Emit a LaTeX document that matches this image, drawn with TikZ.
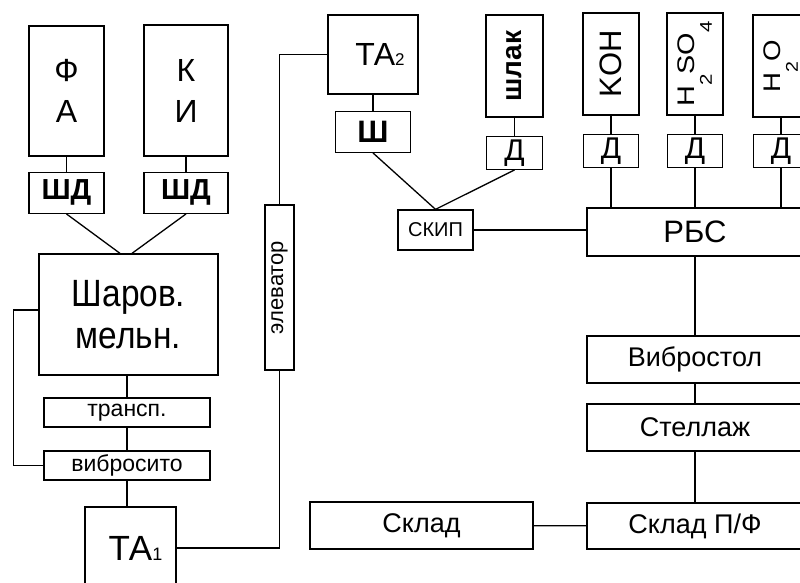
\documentclass[tikz,border=0pt]{standalone}
\usepackage{fontspec}
\setmainfont{Liberation Sans}
\newfontfamily\tallfont{Liberation Sans}[FakeStretch=0.88]
\usepackage{graphicx}
\usetikzlibrary{positioning}

\newcommand{\fsz}[1]{\fontsize{#1}{#1}\selectfont}
\newcommand{\chemsub}[1]{\raisebox{-17pt}{\fsz{17}#1}}

\begin{document}
\begin{tikzpicture}[x=1pt, y=-1pt,
		box/.style={
			rectangle, draw, line width=1.3pt, inner sep=0pt,
			align=center, font=\fontsize{32}{41}\selectfont
		},
		tallbox/.style={
			box, minimum width=56pt, minimum height=102pt
		},
		dbox/.style={
			box, minimum width=55pt, minimum height=33pt, font=\fsz{30}
		},
		shdbox/.style={
			box, minimum height=41pt, font=\fsz{29}\bfseries
		},
		strip/.style={
			box, minimum width=166pt, minimum height=29pt, font=\fsz{23}
		},
		widebox/.style={
			box, minimum width=216pt, minimum height=47pt, font=\fsz{27}
		},
		conn/.style={line width=1.3pt},
		]
		
		\useasboundingbox (0,0) rectangle (800,582);
		
		%left line
		\node[box, minimum width=75pt, minimum height=130pt] (fa) at (66.5,91) {Ф\\А};
		\node[box, minimum width=84pt, minimum height=131pt] (ki) at (186,90.5) {К\\И};
		\node[shdbox, minimum width=75pt, below=15pt of fa] (shd1) {ШД};
		\node[shdbox, minimum width=84pt, below=15pt of ki] (shd2) {ШД};
		\draw[conn] (fa) -- (shd1);
		\draw[conn] (ki) -- (shd2);
		
		\node[box, minimum width=179pt, minimum height=121pt, font=\tallfont\fontsize{38}{42}\selectfont] (mill) at (128.5,314.5) {Шаров.\\мельн.};
		\draw[conn] (shd1.south) -- ([xshift=-8.5pt]mill.north);
		\draw[conn] (shd2.south) -- ([xshift=3.5pt]mill.north);
		
		\node[strip] (transp) at (127,412.5) {трансп.};
		\node[strip] (sito) at (127,465.5) {вибросито};
		\draw[conn] (transp.north |- mill.south) -- (transp.north);
		\draw[conn] (transp) -- (sito);
		\draw[conn] ([yshift=4.5pt]mill.west) -- ++(-25,0) |- (sito.west);
		
		\node[box, minimum width=91pt, minimum height=82pt, font=\fsz{35}] (ta1) at (130.5,548) {\hspace{10pt}ТА{\fsz{18}1}};
		\draw[conn] (sito.south) -- (sito.south |- ta1.north);
		
		%elevator
		\node[box, minimum width=29pt, minimum height=165pt, font=\fsz{22}] (elev) at (279.5,287.5) {\rotatebox{90}{элеватор}};
		\draw[conn] (ta1.east) -| (elev.south);
		
		\node[box, minimum width=90pt, minimum height=79pt, font=\fsz{32}] (ta2) at (373,54.5) {\hspace{14pt}ТА{\fsz{17}2}};
		\draw[conn] (elev.north) |- (ta2.west);
		\node[box, minimum width=75pt, minimum height=41pt, font=\fsz{31}\bfseries, below=16pt of ta2] (sh) {Ш};
		\draw[conn] (ta2) -- (sh);
		
		%slag and skip
		\node[box, minimum width=75pt, minimum height=40pt, font=\fsz{20}] (skip) at (435.5,230) {СКИП};
		\node[tallbox, minimum width=57pt, font=\fsz{28}\bfseries] (slag) at (514.5,66) {\rotatebox{90}{шлак}};
		\node[dbox, minimum width=56pt, below=18pt of slag] (dslag) {Д};
		\draw[conn] (slag) -- (dslag);
		\draw[conn] (sh.south) -- (skip.north);
		\draw[conn] (dslag.south) -- (skip.north);
		
		%reagents
		\node[tallbox, font=\fsz{31}] (koh) at (611,64) {\rotatebox{90}{KOH}};
		\node[tallbox, font=\fsz{24}] (hso) at (695,64) {\rotatebox{90}{\scalebox{1.2}[1]{H\chemsub{2}SO\chemsub{4}}}};
		\node[tallbox, font=\fsz{24}] (hho) at (781,66) {\rotatebox{90}{\scalebox{1.15}[1]{H\chemsub{2}O}}};
		\foreach \r in {koh,hso}
			\node[dbox, below=18pt of \r] (d\r) {Д};
		\node[dbox, below=16pt of hho] (dhho) {Д};
		
		\node[widebox, minimum height=48pt, font=\fsz{31}] (rbs) at (695,232) {РБС};
		\foreach \r in {koh,hso,hho} {
			\draw[conn] (\r) -- (d\r);
			\draw[conn] (d\r.south) -- (d\r.south |- rbs.north);
		}
		\draw[conn] (skip.east) -- (skip.east -| rbs.west);
		
		%finishing
		\node[widebox] (vibro) at (695,359.5) {Вибростол};
		\node[widebox] (stel) at (695,427.5) {Стеллаж};
		\node[widebox, minimum height=46pt] (sklpf) at (695,526) {Склад П/Ф};
		\node[box, minimum width=223pt, minimum height=47pt, font=\fsz{27}] (skl) at (421.5,525.5) {Склад};
		\draw[conn] (rbs) -- (vibro);
		\draw[conn] (vibro) -- (stel);
		\draw[conn] (stel) -- (sklpf);
		\draw[conn] (skl) -- (sklpf);
\end{tikzpicture}
\end{document}
